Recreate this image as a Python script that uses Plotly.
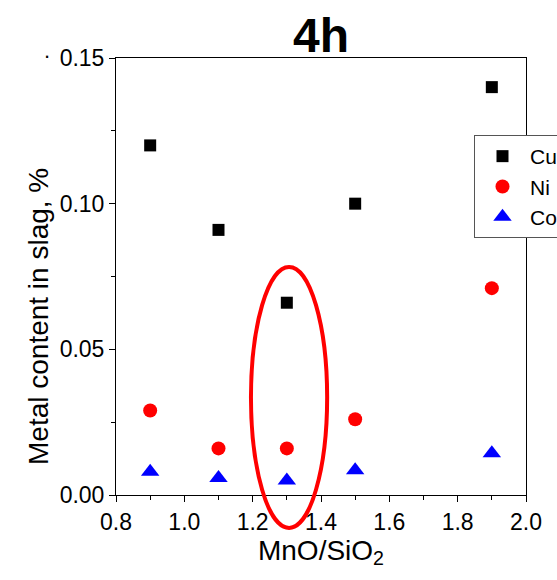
import plotly.graph_objects as go

ratio = [0.9, 1.1, 1.3, 1.5, 1.9]
cu = [0.120, 0.091, 0.066, 0.100, 0.140]
ni = [0.029, 0.016, 0.016, 0.026, 0.071]
co = [0.008, 0.0058, 0.005, 0.0085, 0.0143]

x_range = [0.8, 2.0]
y_range = [0.0, 0.15]
x_ticks = [0.8, 1.0, 1.2, 1.4, 1.6, 1.8, 2.0]
y_ticks = [0.00, 0.05, 0.10, 0.15]

FONT = "Liberation Sans, Arial, sans-serif"

# plot area in pixels
L, R, T, B = 116, 526, 58, 495
W, H = 557, 580
PW, PH = R - L, B - T

def px_x(p):
    return (p - L) / PW

def px_y(p):
    return (B - p) / PH

fig = go.Figure()
fig.add_trace(go.Scatter(x=ratio, y=cu, mode="markers", name="Cu",
                         marker=dict(symbol="square", size=12, color="black"), cliponaxis=False))
fig.add_trace(go.Scatter(x=ratio, y=ni, mode="markers", name="Ni",
                         marker=dict(symbol="circle", size=14, color="red"), cliponaxis=False))
fig.add_trace(go.Scatter(x=ratio, y=co, mode="markers", name="Co",
                         marker=dict(symbol="triangle-up", size=16, color="blue"), cliponaxis=False))

def xd(v):
    return (v - x_range[0]) / (x_range[1] - x_range[0])

def yd(v):
    return (v - y_range[0]) / (y_range[1] - y_range[0])

# ellipse highlight (axis-domain coords so it is not clipped)
fig.add_shape(type="circle", xref="x domain", yref="y domain",
              x0=xd(1.195), x1=xd(1.418), y0=yd(-0.0113), y1=yd(0.0783),
              line=dict(color="red", width=4), layer="above")

axis_common = dict(showline=True, linecolor="black", linewidth=1, mirror=True,
                   ticks="outside", ticklen=6, tickwidth=1, tickcolor="black",
                   showgrid=False, zeroline=False,
                   tickfont=dict(family=FONT, size=23, color="black"))

fig.update_xaxes(range=x_range, tickvals=x_ticks, tickformat=".1f",
                 minor=dict(ticks="outside", ticklen=4, dtick=0.1, tick0=0.8, tickcolor="black"),
                 title=dict(text="MnO/SiO<sub>2</sub>", font=dict(family=FONT, size=28, color="black"),
                            standoff=4),
                 **axis_common)
fig.update_yaxes(range=y_range, tickvals=y_ticks, tickformat=".2f",
                 minor=dict(ticks="outside", ticklen=4, dtick=0.025, tick0=0, tickcolor="black"),
                 **axis_common)

# y-axis title
fig.add_annotation(text="Metal content in slag, %", xref="paper", yref="paper",
                   x=px_x(38), y=px_y(317), xanchor="center", yanchor="middle",
                   textangle=-90, showarrow=False,
                   font=dict(family=FONT, size=28, color="black"))
# stray dot at top left
fig.add_annotation(text=".", xref="paper", yref="paper",
                   x=px_x(47), y=px_y(50), xanchor="center", yanchor="middle",
                   showarrow=False, font=dict(family=FONT, size=22, color="black"))

fig.update_layout(
    width=W, height=H,
    margin=dict(l=L, r=W - R, t=T, b=H - B, autoexpand=False),
    paper_bgcolor="white", plot_bgcolor="white",
    title=dict(text="<b>4h</b>", x=321 / W, xanchor="center", y=1 - 35 / H, yanchor="middle",
               font=dict(family=FONT, size=48, color="black")),
    showlegend=True,
    legend=dict(x=px_x(474), y=px_y(135), xanchor="left", yanchor="top",
                bordercolor="#555555", borderwidth=1, bgcolor="white",
                font=dict(family=FONT, size=21, color="black"),
                tracegroupgap=0, itemwidth=45),
    font=dict(family=FONT, color="black"),
)

fig.write_html("out.html")
